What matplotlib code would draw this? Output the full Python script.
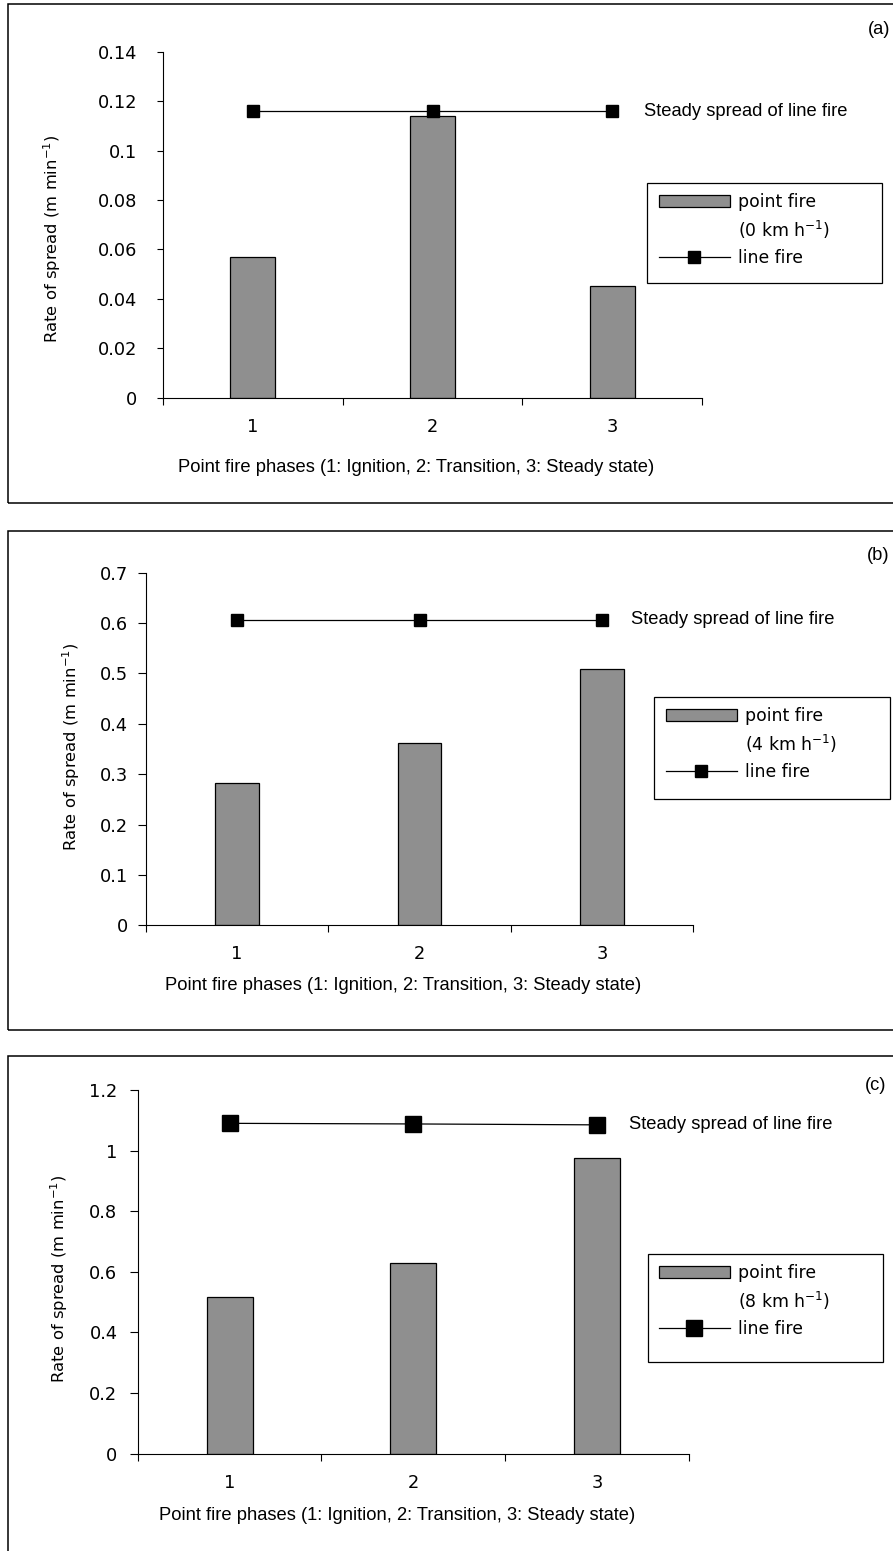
import matplotlib
matplotlib.use('Agg')
import matplotlib.pyplot as plt
from matplotlib.patches import Rectangle
from matplotlib.ticker import FixedLocator, FuncFormatter, NullFormatter
from matplotlib.transforms import blended_transform_factory

# --- data ---
phases = [1, 2, 3]
phase_labels = ['1', '2', '3']
wind_speeds = ['0', '4', '8']
panel_tags = ['(a)', '(b)', '(c)']

point_fire_a = [0.057, 0.114, 0.045]
line_fire_a = [0.116, 0.116, 0.116]
point_fire_b = [0.283, 0.361, 0.508]
line_fire_b = [0.607, 0.607, 0.607]
point_fire_c = [0.516, 0.630, 0.976]
line_fire_c = [1.090, 1.088, 1.085]

yticks_a = [0, 0.02, 0.04, 0.06, 0.08, 0.1, 0.12, 0.14]
yticks_b = [0, 0.1, 0.2, 0.3, 0.4, 0.5, 0.6, 0.7]
yticks_c = [0, 0.2, 0.4, 0.6, 0.8, 1.0, 1.2]

xlabel_text = 'Point fire phases (1: Ignition, 2: Transition, 3: Steady state)'
ylabel_text = 'Rate of spread (m min$^{-1}$)'
note_text = 'Steady spread of line fire'

W, H = 893, 1551
BAR_GRAY = '#8f8f8f'
NARROW = 'Liberation Sans'

plt.rcParams['font.family'] = ['DejaVu Sans']
fig = plt.figure(figsize=(W / 100, H / 100), dpi=100)


def px_rect(l, t, r, b):
    return [l / W, 1 - b / H, (r - l) / W, (b - t) / H]


def fig_box(l, t, r, b, lw):
    fig.add_artist(Rectangle((l / W, 1 - b / H), (r - l) / W, (b - t) / H,
                             transform=fig.transFigure, fill=False,
                             edgecolor='black', linewidth=lw, clip_on=False))


def draw_panel(vals, line_vals, yticks, wind, tag, ax_box, frame_tb, leg_box,
               leg_anchor, ylab_xy, xlab_y, note_x, tag_xy, ms, bar_w,
               ytick_len, ytick_pad):
    l, t, r, b = ax_box
    ax = fig.add_axes(px_rect(*ax_box))
    bars = ax.bar(phases, vals, width=bar_w, color=BAR_GRAY, edgecolor='black',
                  linewidth=0.9, zorder=2)
    line, = ax.plot(phases, line_vals, color='black', lw=0.9, marker='s', ms=ms,
                    mfc='black', mec='black', zorder=3, clip_on=False)

    ax.set_xlim(0.5, 3.5)
    ax.set_ylim(yticks[0], yticks[-1])
    ax.set_yticks(yticks)
    ax.yaxis.set_major_formatter(FuncFormatter(lambda v, p: '%g' % round(v, 4)))
    ax.xaxis.set_major_locator(FixedLocator([0.5, 1.5, 2.5, 3.5]))
    ax.xaxis.set_major_formatter(NullFormatter())
    ax.set_xticks(phases, minor=True)
    ax.set_xticklabels(phase_labels, minor=True)
    ax.tick_params(axis='x', which='major', direction='out', length=5, width=0.8)
    ax.tick_params(axis='x', which='minor', length=0, pad=14.5, labelsize=12.8)
    ax.tick_params(axis='y', direction='out', length=ytick_len, width=0.8,
                   pad=ytick_pad, labelsize=12.8)
    for s in ['top', 'right']:
        ax.spines[s].set_visible(False)
    for s in ['left', 'bottom']:
        ax.spines[s].set_linewidth(0.8)

    ax.set_xlabel(xlabel_text, family=NARROW, fontsize=13.2, va='center')
    ax.xaxis.set_label_coords(0.47, -(xlab_y - b) / (b - t))
    ax.set_ylabel(ylabel_text, fontsize=11.8, va='center', ha='center')
    ax.yaxis.set_label_coords((ylab_xy[0] - l) / (r - l), (b - ylab_xy[1]) / (b - t))

    trans = blended_transform_factory(ax.transAxes, ax.transData)
    ax.text((note_x - l) / (r - l), line_vals[-1], note_text, transform=trans,
            va='center', ha='left', family=NARROW, fontsize=13.2)

    # legend: bar on first row, wind speed on its own row
    blank = Rectangle((0, 0), 1, 1, visible=False)
    ax.legend([bars, blank, line],
              ['point fire', '(%s km h$^{-1}$)' % wind, 'line fire'],
              loc='upper left', bbox_to_anchor=(leg_anchor[0] / W, 1 - leg_anchor[1] / H),
              bbox_transform=fig.transFigure, frameon=False, borderpad=0,
              borderaxespad=0, handlelength=4.1, handletextpad=0.5,
              labelspacing=0.45, fontsize=12.4)
    fig_box(*leg_box, lw=0.9)

    fig_box(8, frame_tb[0], W + 20, frame_tb[1], lw=1.1)
    fig.text(tag_xy[0] / W, 1 - tag_xy[1] / H, tag, family=NARROW,
             fontsize=13.2, va='center', ha='left')


draw_panel(point_fire_a, line_fire_a, yticks_a, wind_speeds[0], panel_tags[0],
           ax_box=(163, 51.7, 702, 397.7), frame_tb=(4, 503),
           leg_box=(647, 183, 882, 283), leg_anchor=(659, 193),
           ylab_xy=(51.7, 239), xlab_y=468, note_x=643.5, tag_xy=(868, 30),
           ms=8.6, bar_w=0.25, ytick_len=4.3, ytick_pad=14.4)
draw_panel(point_fire_b, line_fire_b, yticks_b, wind_speeds[1], panel_tags[1],
           ax_box=(146, 572.7, 693, 925.3), frame_tb=(531, 1030),
           leg_box=(654, 697, 890, 799), leg_anchor=(666, 707),
           ylab_xy=(70.8, 747), xlab_y=986, note_x=630.7, tag_xy=(867, 555),
           ms=8.6, bar_w=0.24, ytick_len=6, ytick_pad=7.2)
draw_panel(point_fire_c, line_fire_c, yticks_c, wind_speeds[2], panel_tags[2],
           ax_box=(137.7, 1090, 689, 1453.7), frame_tb=(1055.5, 1600),
           leg_box=(648, 1254, 883, 1362), leg_anchor=(659, 1264),
           ylab_xy=(59, 1279), xlab_y=1515, note_x=629, tag_xy=(865, 1085),
           ms=11, bar_w=0.25, ytick_len=6, ytick_pad=8.6)

fig.savefig('out.png', dpi=100)
